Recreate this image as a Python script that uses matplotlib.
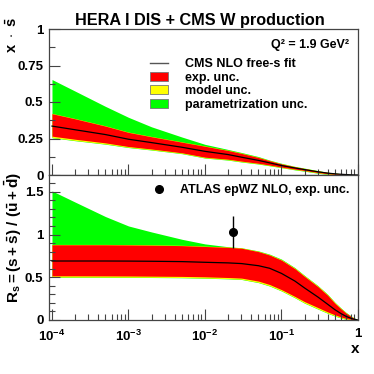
import matplotlib
matplotlib.use('Agg')
import matplotlib.pyplot as plt
from matplotlib.lines import Line2D
from matplotlib.patches import Patch
from matplotlib.ticker import MultipleLocator, FixedLocator, NullFormatter

plt.rcParams['font.family'] = ['Liberation Sans', 'DejaVu Sans']
plt.rcParams['font.weight'] = 'bold'
plt.rcParams['mathtext.fontset'] = 'custom'
plt.rcParams['mathtext.rm'] = 'Liberation Sans:bold'
plt.rcParams['mathtext.bf'] = 'Liberation Sans:bold'
plt.rcParams['mathtext.it'] = 'Liberation Sans:bold'

# x grid shared by both panels
x_grid = [1e-4, 2e-4, 5e-4, 1e-3, 2e-3, 5e-3, 1e-2, 2e-2, 3e-2, 5e-2, 0.07,
          0.1, 0.15, 0.2, 0.3, 0.4, 0.5, 0.6, 0.7, 0.85, 1.0]

# top panel: x * sbar
xs_cen = [0.335, 0.31, 0.277, 0.245, 0.222, 0.19, 0.162, 0.14, 0.122, 0.1, 0.083,
          0.065, 0.048, 0.037, 0.022, 0.013, 0.008, 0.005, 0.003, 0.001, 0.0]
xs_exp_hi = [0.42, 0.385, 0.335, 0.292, 0.262, 0.225, 0.197, 0.168, 0.148, 0.12, 0.098,
             0.076, 0.056, 0.044, 0.027, 0.017, 0.011, 0.007, 0.004, 0.002, 0.0]
xs_exp_lo = [0.266, 0.245, 0.22, 0.195, 0.178, 0.152, 0.122, 0.108, 0.095, 0.08, 0.068,
             0.054, 0.04, 0.031, 0.017, 0.009, 0.005, 0.003, 0.001, 0.0, 0.0]
xs_mod_hi = [0.422, 0.387, 0.337, 0.294, 0.264, 0.227, 0.199, 0.17, 0.15, 0.122, 0.1,
             0.078, 0.058, 0.046, 0.029, 0.019, 0.013, 0.009, 0.006, 0.003, 0.0]
xs_mod_lo = [0.257, 0.237, 0.213, 0.19, 0.173, 0.148, 0.118, 0.104, 0.091, 0.077, 0.065,
             0.051, 0.037, 0.028, 0.014, 0.006, 0.002, 0.0, 0.0, 0.0, 0.0]
xs_tot_hi = [0.654, 0.575, 0.47, 0.395, 0.33, 0.26, 0.21, 0.175, 0.154, 0.126, 0.102,
             0.08, 0.059, 0.047, 0.03, 0.019, 0.013, 0.009, 0.006, 0.003, 0.0]
xs_tot_lo = [0.255, 0.235, 0.211, 0.188, 0.171, 0.146, 0.116, 0.102, 0.089, 0.075, 0.063,
             0.05, 0.035, 0.026, 0.012, 0.004, 0.001, 0.0, 0.0, 0.0, 0.0]

# bottom panel: R_s
rs_cen = [0.69, 0.69, 0.69, 0.689, 0.687, 0.683, 0.675, 0.668, 0.66, 0.635, 0.605,
          0.545, 0.455, 0.375, 0.268, 0.185, 0.12, 0.075, 0.042, 0.013, 0.0]
rs_exp_hi = [0.88, 0.88, 0.88, 0.878, 0.875, 0.87, 0.86, 0.85, 0.84, 0.80, 0.76,
             0.70, 0.60, 0.51, 0.39, 0.29, 0.195, 0.13, 0.08, 0.03, 0.0]
rs_exp_lo = [0.517, 0.517, 0.516, 0.515, 0.513, 0.51, 0.505, 0.497, 0.49, 0.455, 0.415,
             0.355, 0.275, 0.215, 0.145, 0.095, 0.06, 0.035, 0.018, 0.005, 0.0]
rs_mod_hi = [0.884, 0.884, 0.884, 0.882, 0.879, 0.874, 0.864, 0.854, 0.844, 0.804, 0.765,
             0.706, 0.607, 0.518, 0.398, 0.298, 0.203, 0.137, 0.085, 0.033, 0.0]
rs_mod_lo = [0.503, 0.503, 0.502, 0.501, 0.5, 0.497, 0.492, 0.484, 0.477, 0.44, 0.4,
             0.342, 0.262, 0.2, 0.13, 0.082, 0.048, 0.025, 0.01, 0.0, 0.0]
rs_tot_hi = [1.51, 1.38, 1.21, 1.10, 1.03, 0.944, 0.89, 0.857, 0.845, 0.808, 0.77,
             0.712, 0.612, 0.522, 0.402, 0.302, 0.207, 0.14, 0.088, 0.035, 0.0]
rs_tot_lo = [0.5, 0.5, 0.499, 0.498, 0.497, 0.494, 0.489, 0.481, 0.474, 0.437, 0.397,
             0.339, 0.259, 0.197, 0.127, 0.079, 0.045, 0.022, 0.008, 0.0, 0.0]

# ATLAS point
atlas_x = [0.023]
atlas_rs = [1.03]
atlas_err = [0.19]

xticks = [1e-4, 1e-3, 1e-2, 1e-1, 1]
xticklabels = [r'$10^{-4}$', r'$10^{-3}$', r'$10^{-2}$', r'$10^{-1}$', '1']

frame_col = '#444444'
W = 374.0
fig = plt.figure(figsize=(3.74, 3.74), dpi=100)
ax1 = fig.add_axes([49 / W, 1 - 175 / W, 309 / W, 146 / W])
ax2 = fig.add_axes([49 / W, 1 - 320 / W, 309 / W, 145 / W])


def draw_bands(ax, cen, ehi, elo, mhi, mlo, thi, tlo):
    ax.fill_between(x_grid, tlo, thi, color='#00ff00', lw=0)
    ax.fill_between(x_grid, mlo, mhi, color='#ffff00', lw=0)
    ax.fill_between(x_grid, elo, ehi, color='#ff0000', lw=0)
    ax.plot(x_grid, cen, color='black', lw=0.9)


draw_bands(ax1, xs_cen, xs_exp_hi, xs_exp_lo, xs_mod_hi, xs_mod_lo, xs_tot_hi, xs_tot_lo)
draw_bands(ax2, rs_cen, rs_exp_hi, rs_exp_lo, rs_mod_hi, rs_mod_lo, rs_tot_hi, rs_tot_lo)

ax2.errorbar(atlas_x, atlas_rs, yerr=atlas_err, fmt='o', color='black', ms=5.5, lw=1, capsize=0)

for ax in (ax1, ax2):
    ax.set_xscale('log')
    ax.set_xlim(10 ** (-4 - 3 / 77.0), 1)
    ax.xaxis.set_major_locator(FixedLocator(xticks))
    minors = [m * 10.0 ** e for e in range(-5, 0) for m in range(2, 10)]
    ax.xaxis.set_minor_locator(FixedLocator(minors))
    ax.xaxis.set_minor_formatter(NullFormatter())
    ax.tick_params(which='major', direction='in', length=8, width=0.8, color=frame_col, labelsize=9.5, pad=4)
    ax.tick_params(which='minor', direction='in', length=4, width=0.8, color=frame_col)
    ax.tick_params(axis='x', which='major', pad=6)
    for s in ax.spines.values():
        s.set_color(frame_col)
        s.set_linewidth(0.9)

ax1.set_ylim(0, 1)
ax1.yaxis.set_major_locator(FixedLocator([0, 0.25, 0.5, 0.75, 1]))
ax1.yaxis.set_minor_locator(MultipleLocator(0.125))
ax1.set_yticklabels(['0', '0.25', '0.5', '0.75', '1'])
ax1.set_xticklabels([])

ax2.set_ylim(0, 1.696)
ax2.yaxis.set_major_locator(FixedLocator([0, 0.5, 1, 1.5]))
ax2.yaxis.set_minor_locator(MultipleLocator(0.1))
ax2.set_yticklabels(['0', '0.5', '1', '1.5'])
ax2.set_xticklabels(xticklabels)

# legends
h1 = [Line2D([], [], color='#555555', lw=1),
      Patch(facecolor='#ff0000', edgecolor='#777777', lw=0.6),
      Patch(facecolor='#ffff00', edgecolor='#777777', lw=0.6),
      Patch(facecolor='#00ff00', edgecolor='#777777', lw=0.6)]
l1 = ['CMS NLO free-s fit', 'exp. unc.', 'model unc.', 'parametrization unc.']
ax1.legend(h1, l1, loc='upper left', bbox_to_anchor=(0.327, 0.80), frameon=False,
           fontsize=9, handlelength=1.45, handleheight=0.75, handletextpad=1.35,
           labelspacing=0.12, borderpad=0, borderaxespad=0)

h2 = [Line2D([], [], color='black', marker='o', ls='', ms=5.5)]
ax2.legend(h2, ['ATLAS epWZ NLO, exp. unc.'], loc='upper left', bbox_to_anchor=(0.33, 0.935),
           frameon=False, fontsize=9, handlelength=1.3, handletextpad=1.0, borderpad=0, borderaxespad=0)

ax1.text(0.972, 0.89, 'Q² = 1.9 GeV²', transform=ax1.transAxes, ha='right', va='center', fontsize=9)

fig.text(200 / W, 1 - 21 / W, 'HERA I DIS + CMS W production', ha='center', va='center', fontsize=11.7)
fig.text(12 / W, 1 - 17 / W, r'$x\ \cdot\ \bar{s}$', rotation=90, ha='center', va='top', fontsize=10.5)
fig.text(13 / W, 1 - 172 / W, r'$R_{s}=(s+\bar{s})\ /\ (\bar{u}+\bar{d})$', rotation=90,
         ha='center', va='top', fontsize=11)
fig.text(355 / W, 1 - 349 / W, 'x', ha='center', va='center', fontsize=11)

fig.savefig('out.png', dpi=100)
